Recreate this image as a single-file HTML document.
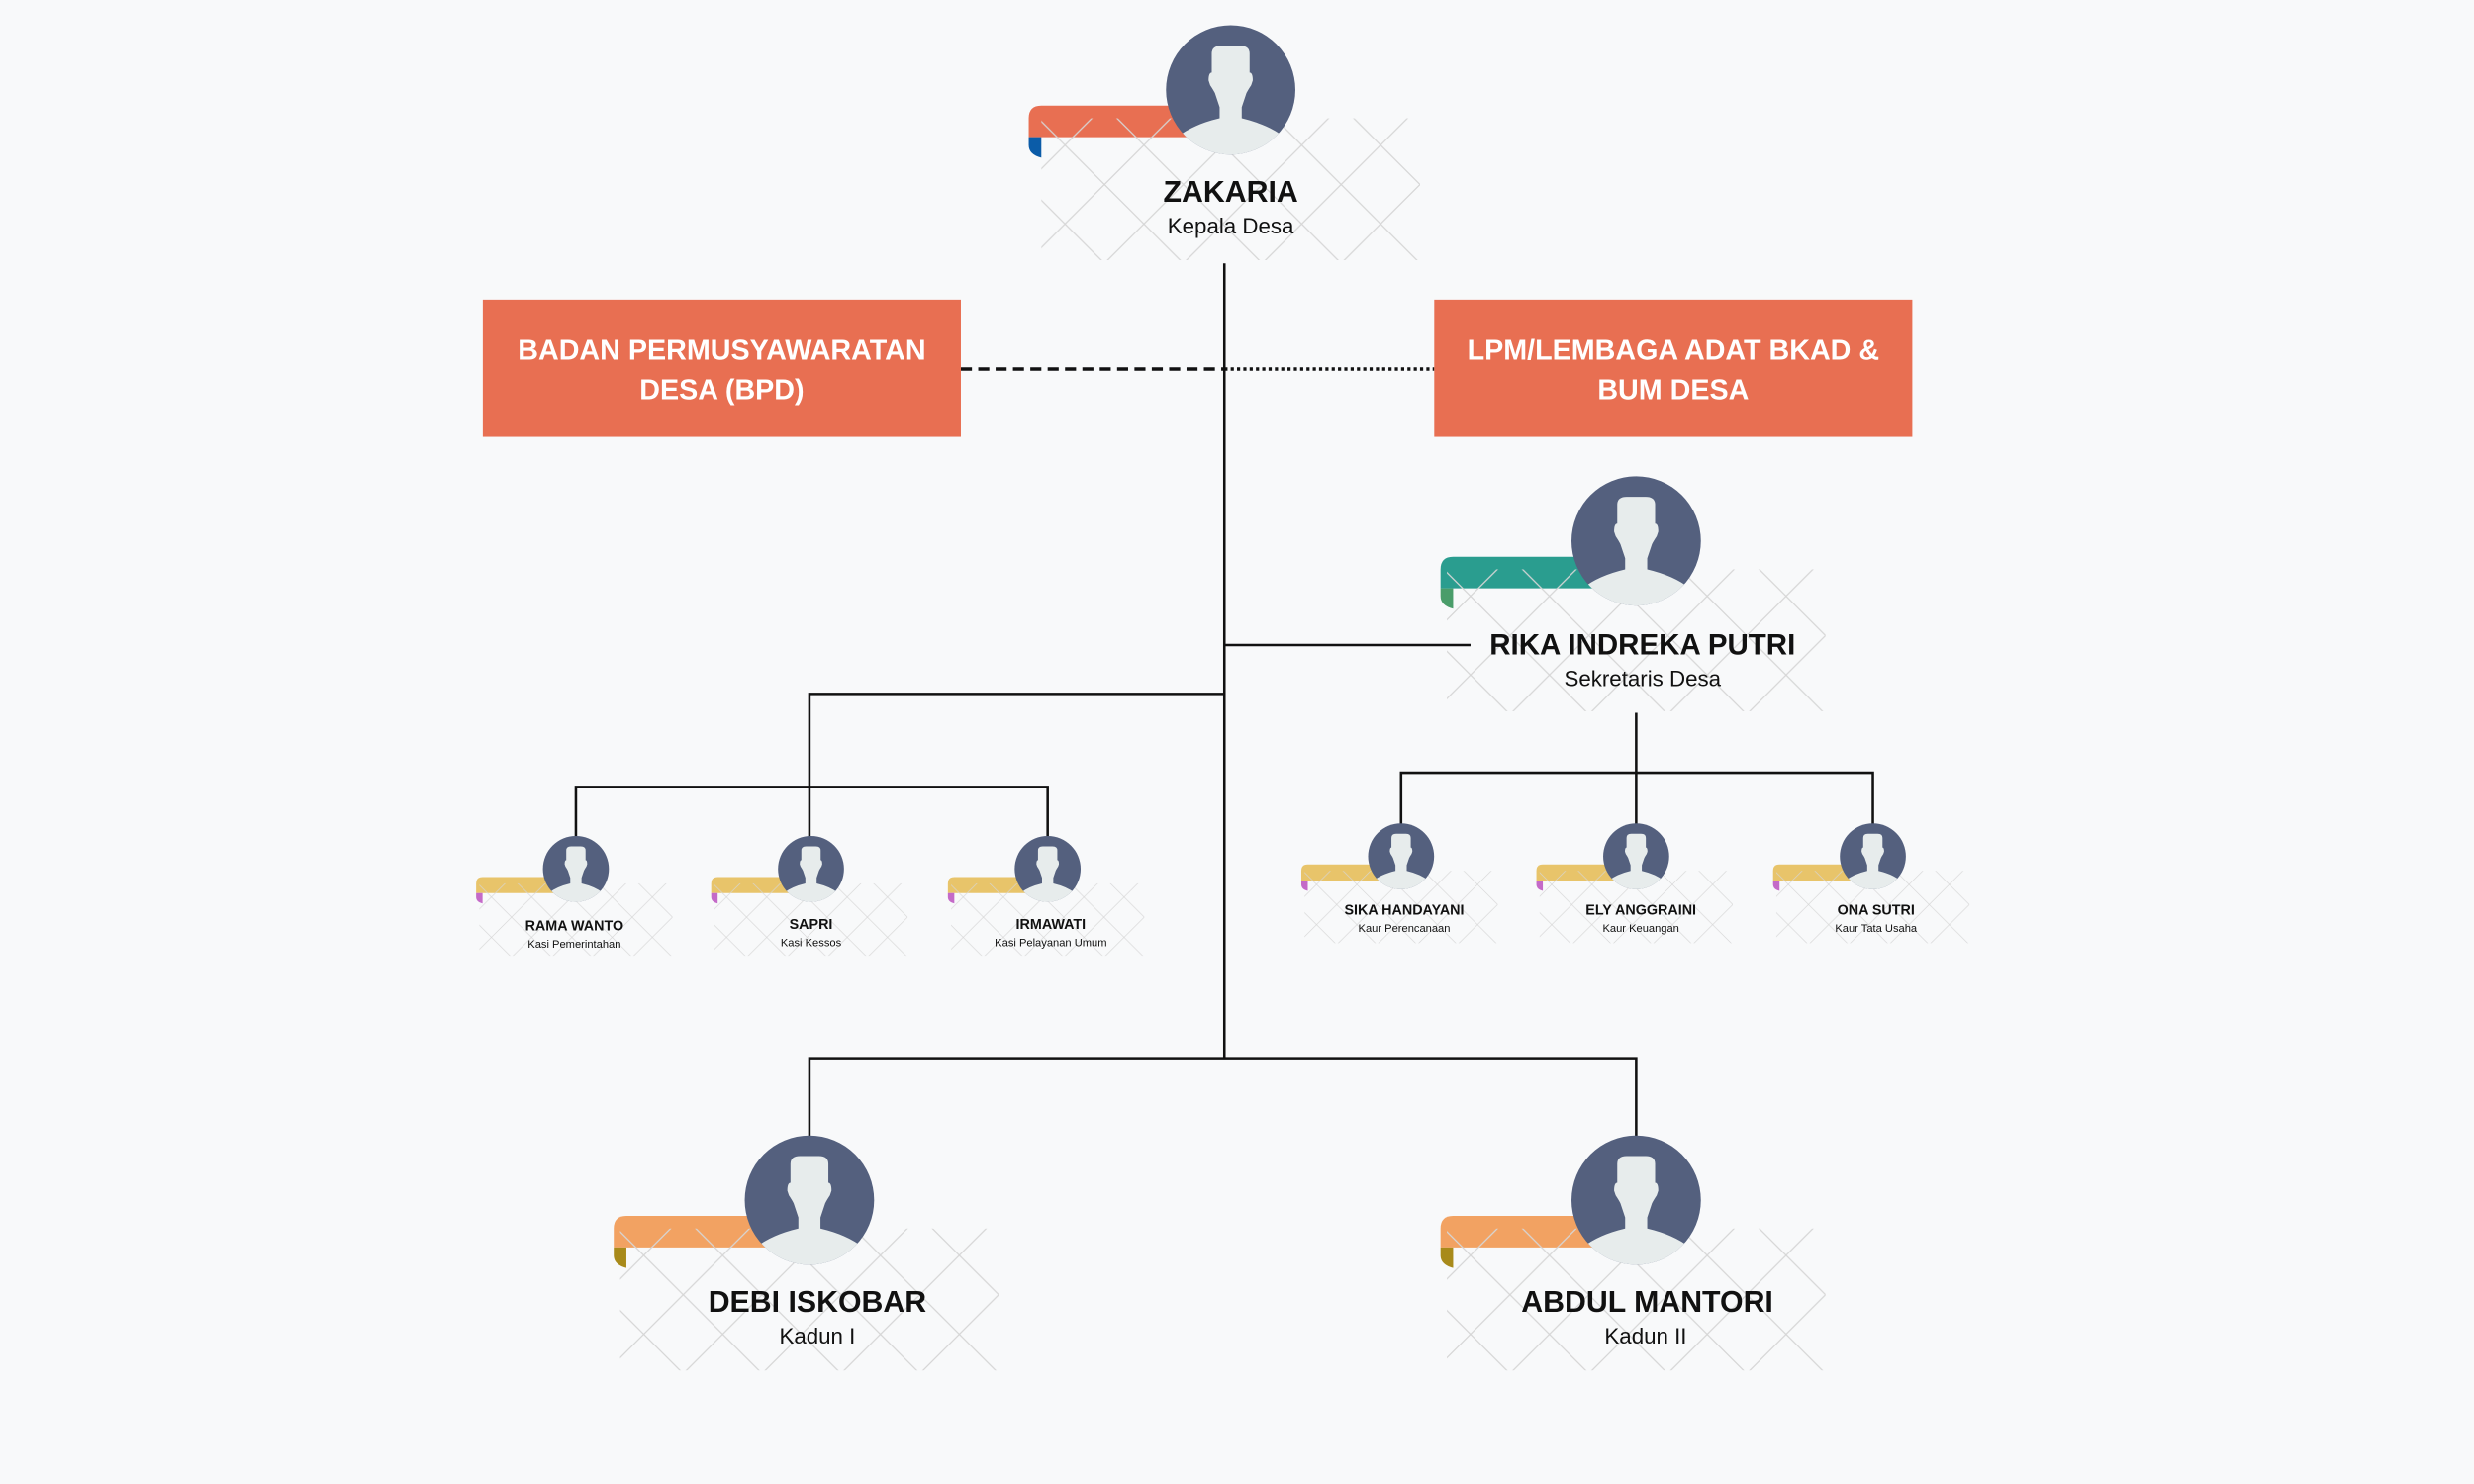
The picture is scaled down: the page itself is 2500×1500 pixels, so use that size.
<!DOCTYPE html>
<html><head><meta charset="utf-8"><style>
html,body{margin:0;padding:0;background:#f8f9fa;}
svg{display:block;}
text{font-family:"Liberation Sans",sans-serif;}
</style></head><body>
<svg width="2500" height="1500" viewBox="0 0 1568 941" preserveAspectRatio="none" xmlns="http://www.w3.org/2000/svg">
<defs>
<pattern id="lat" width="50" height="50" patternUnits="userSpaceOnUse" patternTransform="translate(-30,10)">
<path d="M0 0L50 50M50 0L0 50" stroke="#d6d6d6" stroke-width="0.8" fill="none"/>
</pattern>
<clipPath id="cc"><circle cx="0" cy="0" r="41"/></clipPath>
<g id="av">
<circle cx="0" cy="0" r="41" fill="#54607e"/>
<g clip-path="url(#cc)">
<path d="M-12,-23 Q-12,-28 -6,-28 L6,-28 Q12,-28 12,-23 L12,-11 Q14,-11 14,-6 L13,-3 Q11,0 10,2 L7,11 L7,18 Q24,22 34,30 L34,50 L-34,50 L-34,30 Q-24,22 -7,18 L-7,11 L-10,2 Q-11,0 -13,-3 L-14,-6 Q-14,-11 -12,-11 Z" fill="#e7ecec"/>
</g>
</g>
<g id="card">
<rect x="-120" y="18" width="240" height="90" fill="url(#lat)"/>
</g>
</defs>
<rect width="1568" height="941" fill="#f8f9fa"/>

<g stroke="#111" stroke-width="1.6" fill="none">
<path d="M776 167V671"/>
<path d="M776 409H932"/>
<path d="M776 440H513V532"/>
<path d="M365 531V499H664V531"/>
<path d="M1037 452V490"/>
<path d="M888 523V490H1187V523"/>
<path d="M1037 490V523"/>
<path d="M513 721V671H1037V721"/>
<path d="M609 234H776" stroke-dasharray="7 4" stroke-width="2.2"/>
<path d="M776 234H909" stroke-dasharray="2 2" stroke-width="2.2"/>
</g>

<rect x="306" y="190" width="303" height="87" fill="#e86f52"/>
<text x="457.5" y="228" text-anchor="middle" font-size="18" font-weight="bold" fill="#fff">BADAN PERMUSYAWARATAN</text>
<text x="457.5" y="253" text-anchor="middle" font-size="18" font-weight="bold" fill="#fff">DESA (BPD)</text>
<rect x="909" y="190" width="303" height="87" fill="#e86f52"/>
<text x="1060.5" y="228" text-anchor="middle" font-size="18" font-weight="bold" fill="#fff">LPM/LEMBAGA ADAT BKAD &amp;</text>
<text x="1060.5" y="253" text-anchor="middle" font-size="18" font-weight="bold" fill="#fff">BUM DESA</text>

<g transform="translate(780,57)">
<path d="M-128,30 V18 Q-128,10 -120,10 H-20 V30 Z" fill="#e86f52"/>
<path d="M-128,30 H-120 V43 Q-128,41 -128,35 Z" fill="#0b5ca8"/>
<use href="#card"/><use href="#av"/>
<text x="0" y="71" text-anchor="middle" font-size="19" font-weight="bold" fill="#111">ZAKARIA</text>
<text x="0" y="91" text-anchor="middle" font-size="14" fill="#111">Kepala Desa</text>
</g>
<g transform="translate(1037,343)">
<path d="M-124,30 V18 Q-124,10 -116,10 H-20 V30 Z" fill="#2a9d8f"/>
<path d="M-124,30 H-116 V43 Q-124,41 -124,35 Z" fill="#4a9d6a"/>
<use href="#card"/><use href="#av"/>
<text x="4" y="72" text-anchor="middle" font-size="18.5" font-weight="bold" fill="#111">RIKA INDREKA PUTRI</text>
<text x="4" y="92" text-anchor="middle" font-size="14" fill="#111">Sekretaris Desa</text>
</g>
<g transform="translate(513,761)">
<path d="M-124,30 V18 Q-124,10 -116,10 H-20 V30 Z" fill="#f2a262"/>
<path d="M-124,30 H-116 V43 Q-124,41 -124,35 Z" fill="#a88a1a"/>
<use href="#card"/><use href="#av"/>
<text x="5" y="71" text-anchor="middle" font-size="19" font-weight="bold" fill="#111">DEBI ISKOBAR</text>
<text x="5" y="91" text-anchor="middle" font-size="14" fill="#111">Kadun I</text>
</g>
<g transform="translate(1037,761)">
<path d="M-124,30 V18 Q-124,10 -116,10 H-20 V30 Z" fill="#f2a262"/>
<path d="M-124,30 H-116 V43 Q-124,41 -124,35 Z" fill="#a88a1a"/>
<use href="#card"/><use href="#av"/>
<text x="7" y="71" text-anchor="middle" font-size="19" font-weight="bold" fill="#111">ABDUL MANTORI</text>
<text x="6" y="91" text-anchor="middle" font-size="14" fill="#111">Kadun II</text>
</g>

<g>
<g transform="translate(365,551) scale(0.51)">
<path d="M-124,30 V18 Q-124,10 -116,10 H-20 V30 Z" fill="#e8c46a"/>
<path d="M-124,30 H-116 V43 Q-124,41 -124,35 Z" fill="#c46ac8"/>
<use href="#card"/><use href="#av"/>
</g>
<g transform="translate(514,551) scale(0.51)">
<path d="M-124,30 V18 Q-124,10 -116,10 H-20 V30 Z" fill="#e8c46a"/>
<path d="M-124,30 H-116 V43 Q-124,41 -124,35 Z" fill="#c46ac8"/>
<use href="#card"/><use href="#av"/>
</g>
<g transform="translate(664,551) scale(0.51)">
<path d="M-124,30 V18 Q-124,10 -116,10 H-20 V30 Z" fill="#e8c46a"/>
<path d="M-124,30 H-116 V43 Q-124,41 -124,35 Z" fill="#c46ac8"/>
<use href="#card"/><use href="#av"/>
</g>
<g transform="translate(888,543) scale(0.51)">
<path d="M-124,30 V18 Q-124,10 -116,10 H-20 V30 Z" fill="#e8c46a"/>
<path d="M-124,30 H-116 V43 Q-124,41 -124,35 Z" fill="#c46ac8"/>
<use href="#card"/><use href="#av"/>
</g>
<g transform="translate(1037,543) scale(0.51)">
<path d="M-124,30 V18 Q-124,10 -116,10 H-20 V30 Z" fill="#e8c46a"/>
<path d="M-124,30 H-116 V43 Q-124,41 -124,35 Z" fill="#c46ac8"/>
<use href="#card"/><use href="#av"/>
</g>
<g transform="translate(1187,543) scale(0.51)">
<path d="M-124,30 V18 Q-124,10 -116,10 H-20 V30 Z" fill="#e8c46a"/>
<path d="M-124,30 H-116 V43 Q-124,41 -124,35 Z" fill="#c46ac8"/>
<use href="#card"/><use href="#av"/>
</g>
</g>
<g text-anchor="middle" fill="#111">
<text x="364" y="590" font-size="9" font-weight="bold">RAMA WANTO</text>
<text x="364" y="601" font-size="7">Kasi Pemerintahan</text>
<text x="514" y="589" font-size="9" font-weight="bold">SAPRI</text>
<text x="514" y="600" font-size="7">Kasi Kessos</text>
<text x="666" y="589" font-size="9" font-weight="bold">IRMAWATI</text>
<text x="666" y="600" font-size="7">Kasi Pelayanan Umum</text>
<text x="890" y="580" font-size="9" font-weight="bold">SIKA HANDAYANI</text>
<text x="890" y="591" font-size="7">Kaur Perencanaan</text>
<text x="1040" y="580" font-size="9" font-weight="bold">ELY ANGGRAINI</text>
<text x="1040" y="591" font-size="7">Kaur Keuangan</text>
<text x="1189" y="580" font-size="9" font-weight="bold">ONA SUTRI</text>
<text x="1189" y="591" font-size="7">Kaur Tata Usaha</text>
</g>
</svg>
</body></html>
